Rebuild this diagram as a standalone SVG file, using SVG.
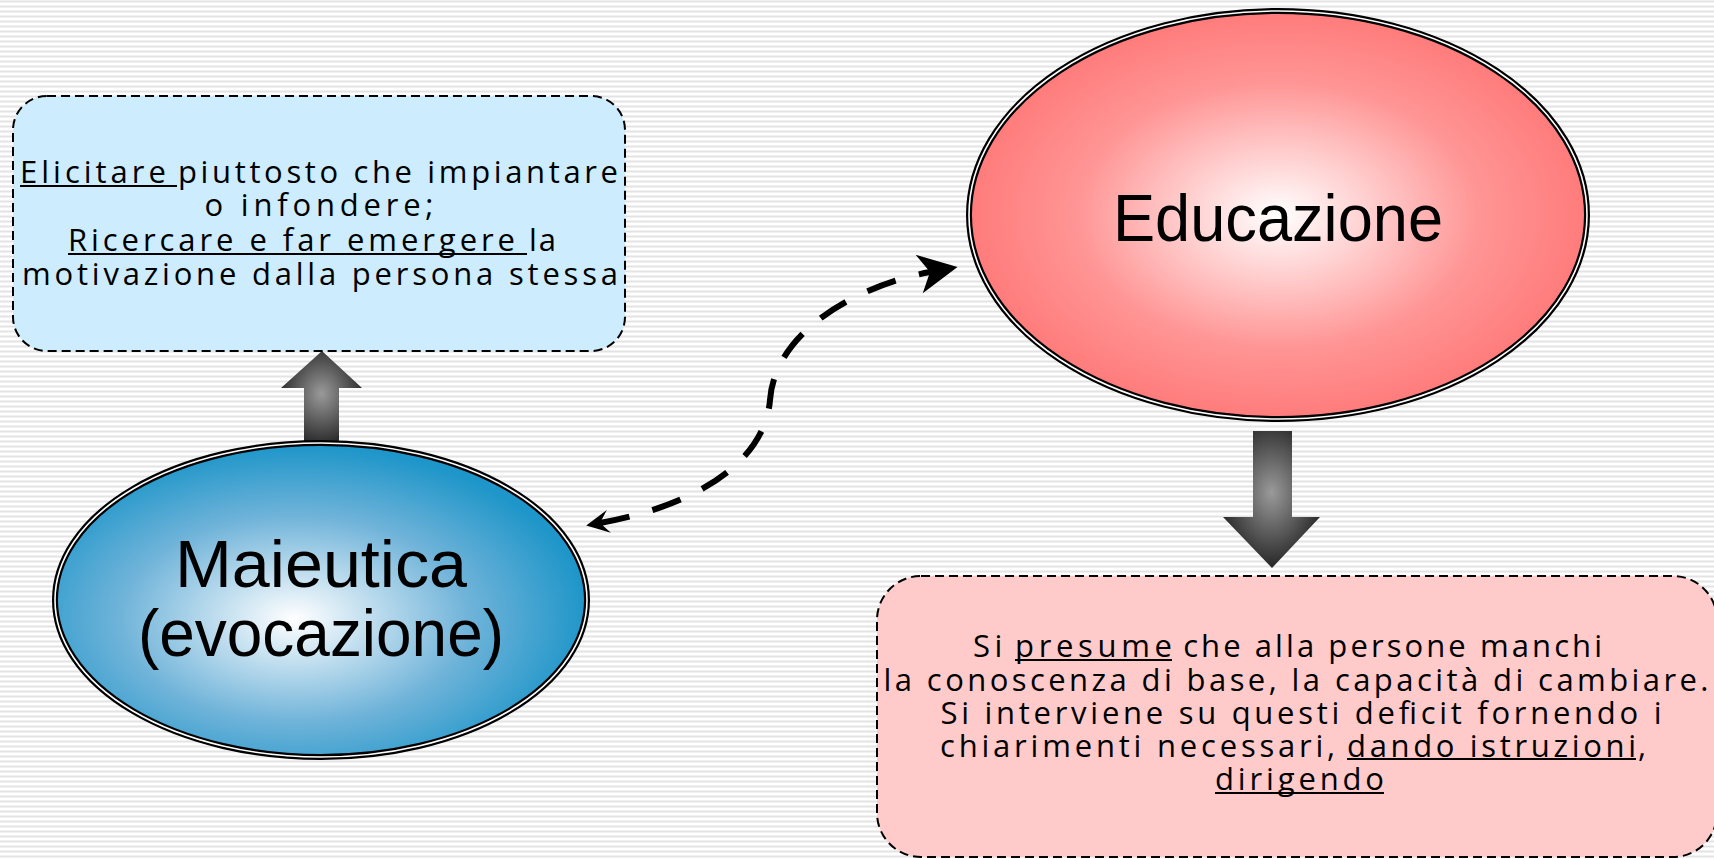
<svg xmlns="http://www.w3.org/2000/svg" width="1714" height="859" viewBox="0 0 1714 859">
<defs>
<pattern id="bg" width="10" height="5" patternUnits="userSpaceOnUse">
<rect width="10" height="5" fill="#ffffff"/>
<rect y="0.5" width="10" height="2" fill="#e3e3e3"/>
</pattern>
<radialGradient id="pinkG" cx="0.5" cy="0.5" r="0.5">
<stop offset="0" stop-color="#ffffff"/>
<stop offset="0.65" stop-color="#ff9595"/>
<stop offset="1" stop-color="#ff7b7b"/>
</radialGradient>
<radialGradient id="blueG" cx="0.45" cy="0.56" r="0.55">
<stop offset="0" stop-color="#ffffff"/>
<stop offset="0.6" stop-color="#6fb3d9"/>
<stop offset="1" stop-color="#1f96c9"/>
</radialGradient>
<radialGradient id="grayG" cx="0.5" cy="0.45" r="0.6">
<stop offset="0" stop-color="#9a9a9a"/>
<stop offset="1" stop-color="#1c1c1c"/>
</radialGradient>
<marker id="headBig" markerUnits="userSpaceOnUse" markerWidth="60" markerHeight="60" refX="0" refY="0" viewBox="-20 -30 60 60" orient="auto" overflow="visible">
<path d="M28,0 L-11,-19.5 L0,0 L-11,19.5 Z" fill="#000"/>
</marker>
<marker id="headSmall" markerUnits="userSpaceOnUse" markerWidth="40" markerHeight="40" refX="0" refY="0" viewBox="-20 -20 40 40" orient="auto-start-reverse" overflow="visible">
<path d="M14,0 L-9,-11.5 L0,0 L-9,11.5 Z" fill="#000"/>
</marker>
<style>
.box{stroke:#000;stroke-width:2;stroke-dasharray:9 5}
.t{font-family:"Open Sans","Liberation Sans",Arial,sans-serif;fill:#000;text-anchor:middle}
.s{font-family:"Open Sans","Liberation Sans",Arial,sans-serif;fill:#000;text-anchor:start}
.small{font-size:31px}
.big{font-family:"Liberation Sans",Arial,sans-serif;font-size:66px}
.ul{stroke:#000;stroke-width:2}
.ringO{fill:none;stroke:#000;stroke-width:6}
.ringI{fill:none;stroke:#fff;stroke-width:1.6}
</style>
</defs>
<rect width="1714" height="859" fill="url(#bg)"/>

<g id="connectors">
<path d="M600 523 C700 505 765 460 770 400 C775 330 860 285 930 272" fill="none" stroke="#000" stroke-width="6" stroke-dasharray="30 24" marker-start="url(#headSmall)" marker-end="url(#headBig)"/>
<polygon id="arrow-up" points="304,446 304,388 281,388 322,351 362,388 339,388 339,446" fill="url(#grayG)"/>
<polygon id="arrow-down" points="1253,431 1292,431 1292,517 1320,517 1272,568 1223,517 1253,517" fill="url(#grayG)"/>
</g>

<g id="node-maieutica-note">
<rect class="box" x="13" y="96" width="612" height="255" rx="34" fill="#cdecfd"/>
<text class="s small" y="183"><tspan x="20" textLength="158">Elicitare </tspan><tspan x="178" textLength="440">piuttosto che impiantare</tspan></text>
<text class="t small" x="319" y="216" textLength="229">o infondere;</text>
<text class="s small" y="251"><tspan x="68" textLength="459">Ricercare e far emergere </tspan><tspan x="529" textLength="27">la</tspan></text>
<text class="t small" x="320" y="285" textLength="596">motivazione dalla persona stessa</text>
<line class="ul" x1="20" y1="186" x2="177" y2="186"/>
<line class="ul" x1="68" y1="254" x2="527" y2="254"/>
</g>

<g id="node-maieutica">
<ellipse cx="321" cy="600" rx="266" ry="157" fill="url(#blueG)"/>
<ellipse class="ringO" cx="321" cy="600" rx="266" ry="157"/>
<ellipse class="ringI" cx="321" cy="600" rx="266" ry="157"/>
<text class="t big" x="321" y="587" textLength="292" lengthAdjust="spacingAndGlyphs">Maieutica</text>
<text class="t big" x="321" y="656" textLength="366" lengthAdjust="spacingAndGlyphs">(evocazione)</text>
</g>

<g id="node-educazione">
<ellipse cx="1278" cy="215" rx="309" ry="204" fill="url(#pinkG)"/>
<ellipse class="ringO" cx="1278" cy="215" rx="309" ry="204"/>
<ellipse class="ringI" cx="1278" cy="215" rx="309" ry="204"/>
<text class="t big" x="1278" y="241" textLength="330" lengthAdjust="spacingAndGlyphs" font-size="64">Educazione</text>
</g>

<g id="node-educazione-note">
<rect class="box" x="877" y="576" width="840" height="281" rx="44" fill="#ffcaca"/>
<text class="s small" y="657"><tspan x="973" textLength="42">Si </tspan><tspan x="1015" textLength="157">presume</tspan><tspan x="1172" textLength="430"> che alla persone manchi</tspan></text>
<text class="t small" x="1296" y="691" textLength="825">la conoscenza di base, la capacità di cambiare.</text>
<text class="t small" x="1301" y="724" textLength="721">Si interviene su questi deficit fornendo i</text>
<text class="s small" y="757"><tspan x="940" textLength="407">chiarimenti necessari, </tspan><tspan x="1347" textLength="289">dando istruzioni</tspan><tspan x="1638">,</tspan></text>
<text class="s small" x="1215" y="790" textLength="169">dirigendo</text>
<line class="ul" x1="1015" y1="660" x2="1172" y2="660"/>
<line class="ul" x1="1347" y1="759" x2="1636" y2="759"/>
<line class="ul" x1="1215" y1="793" x2="1384" y2="793"/>
</g>
</svg>
